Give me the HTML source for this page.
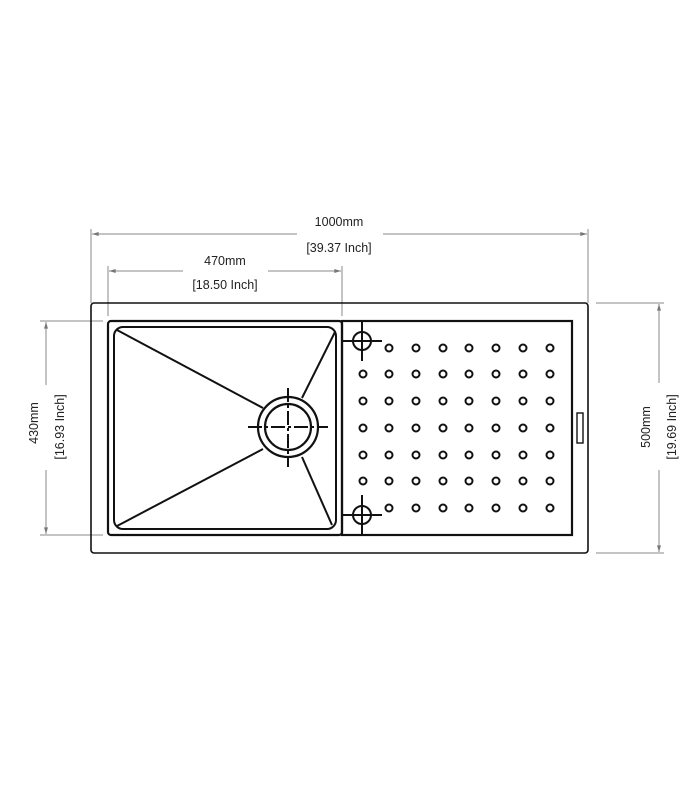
<!DOCTYPE html>
<html><head><meta charset="utf-8"><style>
html,body{margin:0;padding:0;background:#fff;}
svg{display:block;}
text{font-family:"Liberation Sans",sans-serif;font-size:12.5px;fill:#222;}
</style></head><body>
<svg width="700" height="800" viewBox="0 0 700 800" xmlns="http://www.w3.org/2000/svg">
<defs>
<marker id="a" viewBox="0 0 10 6" refX="10" refY="3" markerWidth="10" markerHeight="4" orient="auto-start-reverse" markerUnits="userSpaceOnUse"><path d="M0,0 L10,3 L0,6 z" fill="#777"/></marker>
</defs>
<g stroke="#888" stroke-width="1" fill="none">
<line x1="91" y1="229" x2="91" y2="303"/>
<line x1="588" y1="229" x2="588" y2="303"/>
<line x1="92" y1="234" x2="297" y2="234" marker-start="url(#a)"/>
<line x1="383" y1="234" x2="587" y2="234" marker-end="url(#a)"/>
<line x1="108" y1="266" x2="108" y2="316"/>
<line x1="342" y1="266" x2="342" y2="316"/>
<line x1="109" y1="271" x2="183" y2="271" marker-start="url(#a)"/>
<line x1="268" y1="271" x2="341" y2="271" marker-end="url(#a)"/>
<line x1="40" y1="321" x2="103" y2="321"/>
<line x1="40" y1="535" x2="103" y2="535"/>
<line x1="46" y1="322" x2="46" y2="385" marker-start="url(#a)"/>
<line x1="46" y1="470" x2="46" y2="534" marker-end="url(#a)"/>
<line x1="596" y1="303" x2="664" y2="303"/>
<line x1="596" y1="553" x2="664" y2="553"/>
<line x1="659" y1="304" x2="659" y2="383" marker-start="url(#a)"/>
<line x1="659" y1="470" x2="659" y2="552" marker-end="url(#a)"/>
</g>
<text x="339" y="226" text-anchor="middle">1000mm</text>
<text x="339" y="252" text-anchor="middle">[39.37 Inch]</text>
<text x="225" y="265" text-anchor="middle">470mm</text>
<text x="225" y="289" text-anchor="middle">[18.50 Inch]</text>
<text transform="translate(38,423) rotate(-90)" text-anchor="middle">430mm</text>
<text transform="translate(64,427) rotate(-90)" text-anchor="middle">[16.93 Inch]</text>
<text transform="translate(650,427) rotate(-90)" text-anchor="middle">500mm</text>
<text transform="translate(676,427) rotate(-90)" text-anchor="middle">[19.69 Inch]</text>

<g stroke="#111" fill="none">
<rect x="91" y="303" width="497" height="250" rx="3" stroke-width="1.6"/>
<rect x="108" y="321" width="234" height="214" rx="3" stroke-width="2.2"/>
<rect x="114" y="327" width="222" height="202" rx="9" stroke-width="2"/>
<rect x="342" y="321" width="230" height="214" stroke-width="2.2"/>
<rect x="577" y="413" width="6" height="30" stroke-width="1.4"/>
<g stroke-width="2">
<line x1="117" y1="330" x2="263" y2="408"/>
<line x1="117" y1="526" x2="263" y2="449"/>
<line x1="335" y1="332" x2="302" y2="398"/>
<line x1="332" y1="525" x2="302" y2="457"/>
</g>
<circle cx="288" cy="427" r="30" stroke-width="2.2" fill="#fff"/>
<circle cx="288" cy="427" r="23" stroke-width="2.2"/>
<g stroke-width="2" stroke-dasharray="14,3,3,3">
<line x1="248" y1="427" x2="328" y2="427"/>
<line x1="288" y1="388" x2="288" y2="467"/>
</g>
<g stroke-width="2">
<circle cx="362" cy="341" r="9"/>
<line x1="342" y1="341" x2="382" y2="341"/>
<line x1="362" y1="321" x2="362" y2="361"/>
<circle cx="362" cy="515" r="9"/>
<line x1="342" y1="515" x2="382" y2="515"/>
<line x1="362" y1="495" x2="362" y2="535"/>
</g>
<g stroke-width="2">
<circle cx="389" cy="348" r="3.5"/><circle cx="416" cy="348" r="3.5"/><circle cx="443" cy="348" r="3.5"/><circle cx="469" cy="348" r="3.5"/><circle cx="496" cy="348" r="3.5"/><circle cx="523" cy="348" r="3.5"/><circle cx="550" cy="348" r="3.5"/>
<circle cx="363" cy="374" r="3.5"/><circle cx="389" cy="374" r="3.5"/><circle cx="416" cy="374" r="3.5"/><circle cx="443" cy="374" r="3.5"/><circle cx="469" cy="374" r="3.5"/><circle cx="496" cy="374" r="3.5"/><circle cx="523" cy="374" r="3.5"/><circle cx="550" cy="374" r="3.5"/>
<circle cx="363" cy="401" r="3.5"/><circle cx="389" cy="401" r="3.5"/><circle cx="416" cy="401" r="3.5"/><circle cx="443" cy="401" r="3.5"/><circle cx="469" cy="401" r="3.5"/><circle cx="496" cy="401" r="3.5"/><circle cx="523" cy="401" r="3.5"/><circle cx="550" cy="401" r="3.5"/>
<circle cx="363" cy="428" r="3.5"/><circle cx="389" cy="428" r="3.5"/><circle cx="416" cy="428" r="3.5"/><circle cx="443" cy="428" r="3.5"/><circle cx="469" cy="428" r="3.5"/><circle cx="496" cy="428" r="3.5"/><circle cx="523" cy="428" r="3.5"/><circle cx="550" cy="428" r="3.5"/>
<circle cx="363" cy="455" r="3.5"/><circle cx="389" cy="455" r="3.5"/><circle cx="416" cy="455" r="3.5"/><circle cx="443" cy="455" r="3.5"/><circle cx="469" cy="455" r="3.5"/><circle cx="496" cy="455" r="3.5"/><circle cx="523" cy="455" r="3.5"/><circle cx="550" cy="455" r="3.5"/>
<circle cx="363" cy="481" r="3.5"/><circle cx="389" cy="481" r="3.5"/><circle cx="416" cy="481" r="3.5"/><circle cx="443" cy="481" r="3.5"/><circle cx="469" cy="481" r="3.5"/><circle cx="496" cy="481" r="3.5"/><circle cx="523" cy="481" r="3.5"/><circle cx="550" cy="481" r="3.5"/>
<circle cx="389" cy="508" r="3.5"/><circle cx="416" cy="508" r="3.5"/><circle cx="443" cy="508" r="3.5"/><circle cx="469" cy="508" r="3.5"/><circle cx="496" cy="508" r="3.5"/><circle cx="523" cy="508" r="3.5"/><circle cx="550" cy="508" r="3.5"/>
</g>
</g>
</svg>
</body></html>
